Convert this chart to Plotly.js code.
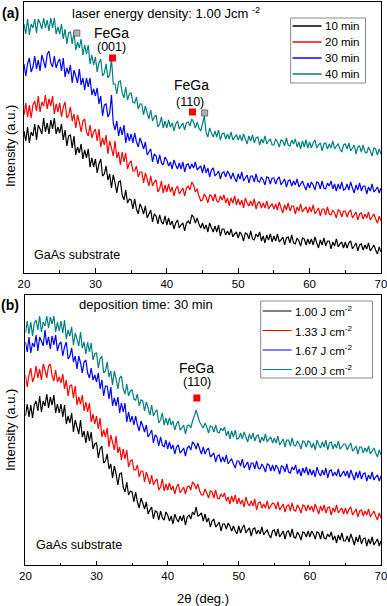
<!DOCTYPE html>
<html>
<head>
<meta charset="utf-8">
<script src="https://cdn.plot.ly/plotly-3.0.1.min.js"></script>
<style>html,body{margin:0;padding:0;background:#fff;}#chart{width:387px;height:606px;}</style>
</head>
<body>
<div id="chart"></div>
<script>
// 2theta grid: start 20 deg, step 0.25 deg (201 points to 70 deg)
const twoThetaStart = 20;
const twoThetaStep = 0.25;

// Panel (a): laser energy density 1.00 J/cm2, deposition-time series (intensity a.u., offset)
const a_10min = [
142,132,146,130,141,137,149,133,148,144,139,155,141,150,139,153,144,155,139,146,
140,149,133,143,127,137,138,125,137,118,126,120,129,114,123,115,124,106,115,106,
114,100,109,114,97,99,107,93,99,85,98,90,80,91,92,78,73,83,70,74,
73,64,74,64,59,69,65,59,67,55,59,63,51,59,57,49,58,51,49,57,
48,55,48,52,44,50,53,45,48,50,42,50,52,49,58,56,50,55,49,45,
50,44,48,41,50,45,41,47,41,48,37,44,44,38,42,38,44,36,39,41,
35,41,38,32,40,39,34,42,34,33,39,36,41,32,37,30,38,33,39,31,
37,32,39,31,33,36,28,35,36,30,38,30,29,35,32,27,35,34,28,34,
29,34,28,36,30,25,33,28,35,27,32,32,24,31,27,34,26,29,31,25,
31,25,30,32,24,27,30,22,28,29,23,28,24,30,22,25,28,23,19,26,21];
const a_20min = [
158,170,156,168,155,168,172,162,177,161,171,167,178,164,174,167,177,159,169,161,
170,156,166,171,155,158,166,152,159,145,158,151,141,152,154,141,137,148,135,141,
144,132,144,126,135,128,138,119,132,125,117,132,115,121,108,121,111,120,104,110,
112,102,102,107,96,101,101,90,100,94,87,97,87,91,93,81,84,92,80,88,
81,89,81,86,77,84,87,79,82,85,77,85,87,83,91,88,81,84,77,72,
73,79,76,70,78,77,72,79,72,71,77,73,78,70,75,67,75,70,77,68,
74,68,73,65,75,70,67,72,67,74,64,70,71,65,70,65,72,64,67,69,
64,69,63,71,65,60,68,63,70,62,67,67,59,66,62,69,61,64,66,60,
66,61,68,59,62,65,57,64,64,58,66,59,58,63,60,55,63,62,56,62,
62,56,61,63,55,58,61,53,59,60,54,59,55,61,53,56,59,54,50,57,52];
const a_30min = [
209,197,209,215,201,206,217,204,213,202,218,212,205,219,222,210,206,217,205,211,
214,202,215,196,205,199,208,190,203,197,190,204,188,195,183,195,186,195,178,184,
177,185,169,177,157,168,169,156,160,178,150,143,152,137,146,138,148,130,140,132,
139,130,140,131,126,135,130,124,131,118,121,124,111,119,117,109,118,110,108,116,
113,107,111,104,113,108,104,110,104,111,101,108,109,104,109,105,111,103,105,107,
100,108,100,105,96,103,105,97,99,102,94,100,101,96,102,99,94,100,95,91,
99,94,101,92,95,98,90,97,97,91,99,92,91,96,93,88,96,95,89,95,
95,89,94,96,88,91,94,86,92,93,87,92,88,94,86,89,92,87,83,90,
85,91,88,83,91,90,84,92,85,84,90,87,92,84,89,82,89,84,91,83,
84,89,83,91,85,80,88,83,90,82,87,87,79,86,82,89,81,83,86,80,85];
const a_40min = [
249,239,254,238,249,245,254,240,254,250,244,255,245,253,242,255,245,255,239,246,
239,249,234,244,229,240,241,229,241,223,231,225,234,218,228,219,228,209,218,208,
216,201,210,214,197,200,209,195,198,214,189,189,179,191,192,180,175,186,173,179,
180,171,170,176,164,169,169,158,167,160,154,163,152,156,158,146,149,156,145,152,
145,153,146,150,142,149,152,144,147,150,143,150,151,147,154,151,145,151,145,142,
149,157,141,136,145,140,136,142,136,143,133,139,140,134,139,134,141,133,136,138,
133,138,132,139,134,129,137,132,138,130,135,136,128,134,130,137,129,132,134,128,
128,134,131,126,133,132,127,135,128,127,133,129,134,126,131,124,132,126,133,125,
131,125,130,133,125,128,130,122,129,130,124,129,125,132,124,127,129,124,121,128,
129,124,130,122,125,128,119,126,127,121,128,121,120,126,122,117,125,124,118,124,119];

// Panel (b): deposition time 30 min, laser-energy-density series
const b_100 = [
149,161,148,160,147,160,164,154,169,153,164,159,171,157,168,160,170,152,161,152,
161,148,160,141,149,142,152,133,145,138,131,145,128,134,122,134,124,133,116,121,
122,107,116,119,102,104,111,96,101,87,99,91,80,91,92,78,73,83,70,74,
73,63,73,63,57,67,62,56,63,51,55,58,46,54,53,45,54,47,45,53,
50,44,49,41,51,46,43,49,44,50,40,48,50,46,53,50,58,49,50,52,
44,51,43,47,38,44,46,38,40,43,34,41,41,36,42,39,34,39,34,31,
39,32,37,40,32,35,37,29,36,37,31,35,31,38,30,33,35,30,27,34,
35,29,36,28,31,34,26,33,34,28,36,28,27,33,30,25,33,32,28,34,
28,34,31,26,33,32,26,34,27,26,31,28,33,25,29,22,30,25,32,24,
24,29,23,31,26,20,28,23,30,21,26,27,19,26,21,28,20,23,26,19,24];
const b_133 = [
190,178,190,197,183,188,199,187,196,185,201,195,187,199,201,189,184,195,183,188,
182,191,176,185,169,179,180,167,179,160,168,161,170,154,163,153,162,143,151,141,
149,136,147,128,135,128,137,118,130,123,115,129,112,118,105,116,106,115,98,104,
105,95,95,100,88,94,94,83,93,87,81,90,80,84,86,75,78,86,74,81,
75,82,75,79,71,78,81,72,75,78,71,78,79,75,83,81,76,81,74,70,
70,76,72,67,74,73,67,75,67,66,71,68,72,64,68,61,69,63,70,61,
67,61,65,58,68,62,59,64,59,66,55,62,63,57,61,57,64,56,59,62,
61,56,63,55,58,61,53,59,60,54,62,55,54,60,57,52,60,59,54,60,
55,59,53,61,56,51,59,54,60,52,57,58,50,57,53,60,52,55,57,51,
57,51,56,58,50,53,56,48,54,55,49,54,50,56,48,51,54,49,45,52,47];
const b_167 = [
223,213,228,212,222,218,230,214,228,224,219,235,220,228,216,229,220,230,214,221,
223,209,218,223,206,209,217,203,209,196,209,202,192,203,205,192,187,197,185,190,
183,192,176,185,169,179,179,166,178,159,167,159,168,152,162,153,162,143,153,143,
149,140,149,140,134,144,139,133,140,128,131,135,122,130,128,119,128,120,118,125,
116,123,116,120,111,118,120,112,114,117,109,117,119,115,123,121,116,122,116,111,
118,111,115,117,108,110,112,103,109,110,103,108,103,110,101,104,106,101,97,104,
104,99,106,97,100,103,95,102,102,96,104,97,96,101,98,93,101,100,94,100,
94,100,97,91,99,98,93,101,93,92,98,95,100,91,96,89,97,92,98,90,
96,90,95,88,98,92,89,95,90,97,87,94,95,89,93,89,96,88,91,94,
89,94,87,95,90,85,93,87,94,86,91,92,84,90,86,93,85,88,90,84,89];
const b_200 = [
232,244,231,243,229,242,245,235,249,233,243,239,249,237,248,241,249,233,243,234,
244,232,245,226,235,229,238,220,232,226,219,233,217,223,211,223,213,222,205,211,
212,197,206,209,192,194,203,188,194,180,194,186,176,187,189,176,171,181,169,174,
175,166,165,171,159,165,164,154,163,157,150,160,149,153,155,142,145,152,140,147,
140,147,140,144,135,141,144,135,137,140,131,139,140,137,144,149,155,149,143,140,
137,142,138,132,139,138,133,140,133,132,137,134,138,129,134,126,134,128,135,126,
127,132,126,133,128,123,131,126,132,124,129,130,122,128,124,131,123,126,128,122,
127,122,129,120,123,126,118,125,125,119,127,120,119,124,121,116,124,123,118,124,
123,117,122,115,125,120,117,123,118,125,115,122,123,116,121,117,124,116,118,121,
121,115,119,122,114,116,119,111,118,118,112,117,113,119,111,114,117,112,108,115,110];

const legendA = ['10 min','20 min','30 min','40 min'];
const legendB = ['1.00 J cm<sup>-2</sup>','1.33 J cm<sup>-2</sup>','1.67 J cm<sup>-2</sup>','2.00 J cm<sup>-2</sup>'];
const colors = ['#000000','#ff0000','#0000ff','#008080'];

// peak markers
const aRedX = [32.4, 43.6], aRedY = [215, 161];
const aGrayX = [27.4, 45.3], aGrayY = [240, 160];
const bRedX = [44.1], bRedY = [167];

const FONT = 'Arial, "Liberation Sans", sans-serif';
const traces = [];
[a_10min, a_20min, a_30min, a_40min].forEach((d, i) => {
  traces.push({type:'scatter', mode:'lines', x0: twoThetaStart, dx: twoThetaStep, y: d, showlegend:false,
    name: legendA[i], line:{color: colors[i], width:1.2, simplify:false}, xaxis:'x', yaxis:'y'});
});
[b_100, b_133, b_167, b_200].forEach((d, i) => {
  traces.push({type:'scatter', mode:'lines', x0: twoThetaStart, dx: twoThetaStep, y: d, showlegend:false,
    name: legendB[i], line:{color: colors[i], width:1.2, simplify:false}, xaxis:'x2', yaxis:'y2'});
});
traces.push({type:'scatter', mode:'markers', x:aRedX, y:aRedY, xaxis:'x', yaxis:'y', showlegend:false,
  marker:{symbol:'square', size:7, color:'#ff0000'}});
traces.push({type:'scatter', mode:'markers', x:aGrayX, y:aGrayY, xaxis:'x', yaxis:'y', showlegend:false,
  marker:{symbol:'square', size:6, color:'#b0b0b0', line:{color:'#707070', width:1}}});
traces.push({type:'scatter', mode:'markers', x:bRedX, y:bRedY, xaxis:'x2', yaxis:'y2', showlegend:false,
  marker:{symbol:'square', size:7, color:'#ff0000'}});

const xax = (domain, anchor) => ({domain: domain, anchor: anchor, range:[20,70], dtick:10, tick0:20,
  ticks:'inside', ticklen:4.5, tickwidth:1, tickcolor:'#000', ticklabeloverflow:'allow',
  minor:{dtick:5, tick0:20, ticks:'inside', ticklen:2.5, tickcolor:'#000', showgrid:false},
  showline:true, linecolor:'#000', linewidth:1, mirror:true, showgrid:false, zeroline:false,
  tickfont:{family:FONT, size:11.5, color:'#000'}});
const yax = (domain, anchor, range) => ({domain: domain, anchor: anchor, range: range,
  showticklabels:false, ticks:'', showline:true, linecolor:'#000', linewidth:1, mirror:true,
  showgrid:false, zeroline:false});

const ann = (text, x, y, xref, yref, opts) => Object.assign({text:text, x:x, y:y, xref:xref, yref:yref,
  xanchor:'center', yanchor:'middle', showarrow:false, font:{family:FONT, size:13, color:'#000'}}, opts || {});

// pixel -> paper helpers for the hand-placed legend boxes and labels
const ML = 24, PW = 357.5, PB = 565, PH = 563;
const px = v => (v - ML) / PW;
const py = v => (PB - v) / PH;

const shapes = [];
const annotations = [
  ann('<b>(a)</b>', px(10), py(13), 'paper', 'paper', {font:{family:FONT, size:14, color:'#000'}}),
  ann('<b>(b)</b>', px(10), py(305), 'paper', 'paper', {font:{family:FONT, size:14, color:'#000'}}),
  ann('Intensity (a.u.)', px(10), py(146), 'paper', 'paper', {textangle:-90}),
  ann('Intensity (a.u.)', px(10), py(430), 'paper', 'paper', {textangle:-90}),
  ann('2θ (deg.)', px(203.5), py(598), 'paper', 'paper'),
  ann('laser energy density: 1.00 Jcm <sup>-2</sup>', 26.4, 260, 'x', 'y', {xanchor:'left'}),
  ann('deposition time: 30 min', 27.2, 260, 'x2', 'y2', {xanchor:'left'}),
  ann('FeGa', 32.2, 240, 'x', 'y', {font:{family:FONT, size:14, color:'#000'}}),
  ann('(001)', 32.3, 226, 'x', 'y', {font:{family:FONT, size:12.5, color:'#000'}}),
  ann('FeGa', 43.5, 188, 'x', 'y', {font:{family:FONT, size:14, color:'#000'}}),
  ann('(110)', 43.3, 171, 'x', 'y', {font:{family:FONT, size:12.5, color:'#000'}}),
  ann('FeGa', 44.1, 197, 'x2', 'y2', {font:{family:FONT, size:14, color:'#000'}}),
  ann('(110)', 44.1, 183, 'x2', 'y2', {font:{family:FONT, size:12.5, color:'#000'}}),
  ann('GaAs substrate', 21.1, 18, 'x', 'y', {xanchor:'left', font:{family:FONT, size:12.5, color:'#000'}}),
  ann('GaAs substrate', 21.2, 20, 'x2', 'y2', {xanchor:'left', font:{family:FONT, size:12.5, color:'#000'}})
];

// legend (a)
shapes.push({type:'rect', xref:'paper', yref:'paper', x0:px(291), x1:px(366), y0:py(83), y1:py(18),
  line:{color:'#8a8a8a', width:1}, fillcolor:'#fff'});
legendA.forEach((t, i) => {
  const yy = 26 + 16 * i;
  shapes.push({type:'line', xref:'paper', yref:'paper', x0:px(293), x1:px(322), y0:py(yy), y1:py(yy),
    line:{color: colors[i], width:1.5}});
  annotations.push(ann(t, px(323), py(yy), 'paper', 'paper', {xanchor:'left', font:{family:FONT, size:11.5, color:'#000'}}));
});
// legend (b)
shapes.push({type:'rect', xref:'paper', yref:'paper', x0:px(261), x1:px(373), y0:py(378), y1:py(301),
  line:{color:'#8a8a8a', width:1}, fillcolor:'#fff'});
legendB.forEach((t, i) => {
  const yy = 311 + 19.5 * i;
  shapes.push({type:'line', xref:'paper', yref:'paper', x0:px(263), x1:px(292), y0:py(yy), y1:py(yy),
    line:{color: colors[i], width:1}});
  annotations.push(ann(t, px(293), py(yy), 'paper', 'paper', {xanchor:'left', font:{family:FONT, size:11.5, color:'#000'}}));
});

const layout = {
  width:387, height:606,
  margin:{l:24, r:5.5, t:2, b:41},
  paper_bgcolor:'#fff', plot_bgcolor:'#fff',
  font:{family:FONT, color:'#000'},
  showlegend:false,
  xaxis: xax([0,1], 'y'),
  yaxis: yax([0.5187,1], 'x', [0,271]),
  xaxis2: xax([0.004,1], 'y2'),
  yaxis2: yax([0,0.4796], 'x2', [0,270]),
  shapes: shapes,
  annotations: annotations
};

Plotly.newPlot('chart', traces, layout, {displayModeBar:false, staticPlot:true});
</script>
</body>
</html>
